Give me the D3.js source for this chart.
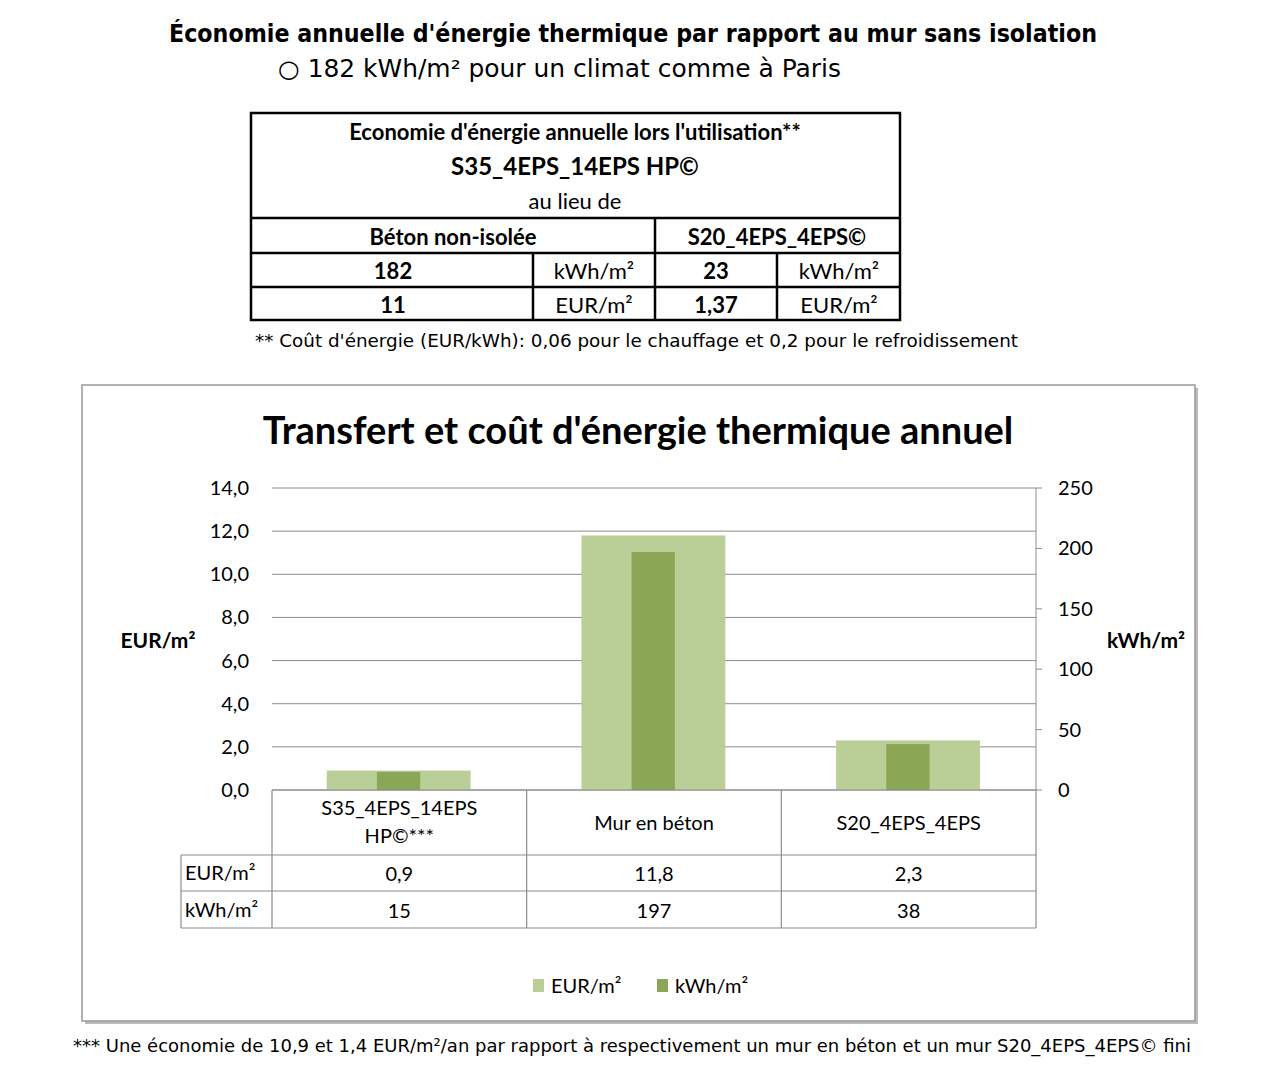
<!DOCTYPE html>
<html><head><meta charset="utf-8">
<script src="https://cdn.jsdelivr.net/npm/d3@7"></script>
<style>
body{margin:0;background:#fff;}
svg text{font-family:Lato,"Open Sans",sans-serif;fill:#000;}
.gothic{font-family:"DejaVu Sans",sans-serif !important;}
</style></head>
<body><svg id="c" width="1270" height="1066"></svg>
<script>
const categories = ['S35_4EPS_14EPS|HP©***', 'Mur en béton', 'S20_4EPS_4EPS'];
const eurValues = [0.9, 11.8, 2.3];
const kwhValues = [15, 197, 38];
const eurLabels = ['0,9', '11,8', '2,3'];
const kwhLabels = ['15', '197', '38'];
const leftTicks = [0, 2, 4, 6, 8, 10, 12, 14];
const rightTicks = [0, 50, 100, 150, 200, 250];

const svg = d3.select('#c');
const fmt = d => d.toFixed(1).replace('.', ',');

// header texts
svg.append('text').attr('x', 633).attr('y', 42).attr('text-anchor', 'middle')
    .attr('class', 'gothic').attr('font-size', 24).attr('font-weight', 'bold')
    .attr('textLength', 928).attr('lengthAdjust', 'spacingAndGlyphs')
    .text("Économie annuelle d'énergie thermique par rapport au mur sans isolation");
svg.append('text').attr('x', 278).attr('y', 77).attr('class', 'gothic').attr('font-size', 24)
    .attr('textLength', 563).attr('lengthAdjust', 'spacingAndGlyphs')
    .text('○ 182  kWh/m² pour un climat comme à Paris');

// top table
const t = svg.append('g');
const line = (x1, y1, x2, y2) => t.append('line').attr('x1', x1).attr('y1', y1).attr('x2', x2).attr('y2', y2)
    .attr('stroke', '#000').attr('stroke-width', 2.5);
t.append('rect').attr('x', 251).attr('y', 113).attr('width', 649).attr('height', 207)
    .attr('fill', 'none').attr('stroke', '#000').attr('stroke-width', 2.5);
line(251, 218, 900, 218); line(251, 253, 900, 253); line(251, 287, 900, 287);
line(655, 218, 655, 320); line(533, 253, 533, 320); line(777, 253, 777, 320);
const tt = (x, y, s, bold, size) => t.append('text').attr('x', x).attr('y', y).attr('text-anchor', 'middle')
    .attr('font-size', size || 22).attr('font-weight', bold ? 'bold' : 'normal').text(s);
tt(575, 140, "Economie d'énergie annuelle lors l'utilisation**", true);
tt(575, 175, 'S35_4EPS_14EPS HP©', true, 24);
tt(575, 209, 'au lieu de');
tt(453, 245, 'Béton non-isolée', true); tt(777, 245, 'S20_4EPS_4EPS©', true);
tt(393, 279, '182', true); tt(594, 279, 'kWh/m²'); tt(716, 279, '23', true); tt(839, 279, 'kWh/m²');
tt(393, 313, '11', true); tt(594, 313, 'EUR/m²'); tt(716, 313, '1,37', true); tt(839, 313, 'EUR/m²');
svg.append('text').attr('x', 255).attr('y', 347).attr('class', 'gothic').attr('font-size', 17)
    .attr('textLength', 763).attr('lengthAdjust', 'spacingAndGlyphs')
    .text("** Coût d'énergie (EUR/kWh):  0,06 pour le chauffage et 0,2  pour le refroidissement");

// chart frame
svg.append('rect').attr('x', 85).attr('y', 388).attr('width', 1113).attr('height', 636).attr('fill', '#bbb');
svg.append('rect').attr('x', 82).attr('y', 385).attr('width', 1113).attr('height', 636)
    .attr('fill', '#fff').attr('stroke', '#999').attr('stroke-width', 1.5);
svg.append('text').attr('x', 638).attr('y', 444).attr('text-anchor', 'middle').attr('font-size', 38)
    .attr('font-weight', 'bold').text("Transfert et coût d'énergie thermique annuel");

const x0 = 272, x1 = 1036, yTop = 488, yBot = 790;
const x = d3.scaleBand().domain(categories).range([x0, x1]);
const yL = d3.scaleLinear().domain([0, 14]).range([yBot, yTop]);
const yR = d3.scaleLinear().domain([0, 250]).range([yBot, yTop]);

const g = svg.append('g');
g.selectAll('.grid').data(leftTicks).join('line')
    .attr('x1', x0).attr('x2', x1).attr('y1', d => yL(d)).attr('y2', d => yL(d))
    .attr('stroke', '#8c8c8c').attr('stroke-width', 1);
g.selectAll('.lt').data(leftTicks).join('text')
    .attr('x', 249).attr('y', d => yL(d) + 7).attr('text-anchor', 'end').attr('font-size', 20).text(fmt);
g.selectAll('.rt').data(rightTicks).join('text')
    .attr('x', 1058).attr('y', d => yR(d) + 7).attr('font-size', 20).text(d => d);
g.selectAll('.rtk').data(rightTicks).join('line')
    .attr('x1', x1).attr('x2', x1 + 6).attr('y1', d => yR(d)).attr('y2', d => yR(d)).attr('stroke', '#8c8c8c');
g.append('line').attr('x1', x1).attr('x2', x1).attr('y1', yTop).attr('y2', yBot).attr('stroke', '#8c8c8c');
g.append('text').attr('x', 158).attr('y', 648).attr('text-anchor', 'middle').attr('font-size', 21)
    .attr('font-weight', 'bold').text('EUR/m²');
g.append('text').attr('x', 1146).attr('y', 648).attr('text-anchor', 'middle').attr('font-size', 21)
    .attr('font-weight', 'bold').text('kWh/m²');

const bw = x.bandwidth();
g.selectAll('.be').data(categories).join('rect')
    .attr('x', d => x(d) + bw * 0.215).attr('width', bw * 0.565)
    .attr('y', (d, i) => yL(eurValues[i])).attr('height', (d, i) => yBot - yL(eurValues[i]))
    .attr('fill', '#bacf98');
g.selectAll('.bk').data(categories).join('rect')
    .attr('x', d => x(d) + bw * 0.412).attr('width', bw * 0.17)
    .attr('y', (d, i) => yR(kwhValues[i])).attr('height', (d, i) => yBot - yR(kwhValues[i]))
    .attr('fill', '#8ba654');

// data table
const tb = svg.append('g').attr('stroke', '#8c8c8c').attr('stroke-width', 1.2);
const tl = (a, b, c, d) => tb.append('line').attr('x1', a).attr('y1', b).attr('x2', c).attr('y2', d);
tl(x0, yBot, x1, yBot); tl(181, 855, x1, 855); tl(181, 891, x1, 891); tl(181, 928, x1, 928);
tl(181, 855, 181, 928);
[x0, x0 + bw, x0 + 2 * bw, x1].forEach(v => tl(v, yBot, v, 928));
categories.forEach((c, i) => {
    const cx = x(c) + bw / 2, parts = c.split('|');
    parts.forEach((p, j) => g.append('text').attr('x', cx)
        .attr('y', parts.length > 1 ? 815 + j * 28 : 830).attr('text-anchor', 'middle')
        .attr('font-size', 20).text(p));
    g.append('text').attr('x', cx).attr('y', 881).attr('text-anchor', 'middle').attr('font-size', 20).text(eurLabels[i]);
    g.append('text').attr('x', cx).attr('y', 918).attr('text-anchor', 'middle').attr('font-size', 20).text(kwhLabels[i]);
});
g.append('text').attr('x', 185).attr('y', 880).attr('font-size', 20).text('EUR/m²');
g.append('text').attr('x', 185).attr('y', 917).attr('font-size', 20).text('kWh/m²');

// legend
const lg = svg.append('g');
lg.append('rect').attr('x', 533).attr('y', 979).attr('width', 11).attr('height', 13).attr('fill', '#bacf98');
lg.append('text').attr('x', 551).attr('y', 993).attr('font-size', 20).text('EUR/m²');
lg.append('rect').attr('x', 657).attr('y', 979).attr('width', 11).attr('height', 13).attr('fill', '#8ba654');
lg.append('text').attr('x', 675).attr('y', 993).attr('font-size', 20).text('kWh/m²');

svg.append('text').attr('x', 73).attr('y', 1052).attr('class', 'gothic').attr('font-size', 18)
    .attr('textLength', 1118).attr('lengthAdjust', 'spacingAndGlyphs')
    .text('*** Une économie de 10,9 et 1,4 EUR/m²/an par rapport à respectivement un mur en béton et un mur S20_4EPS_4EPS© fini');
</script></body></html>
